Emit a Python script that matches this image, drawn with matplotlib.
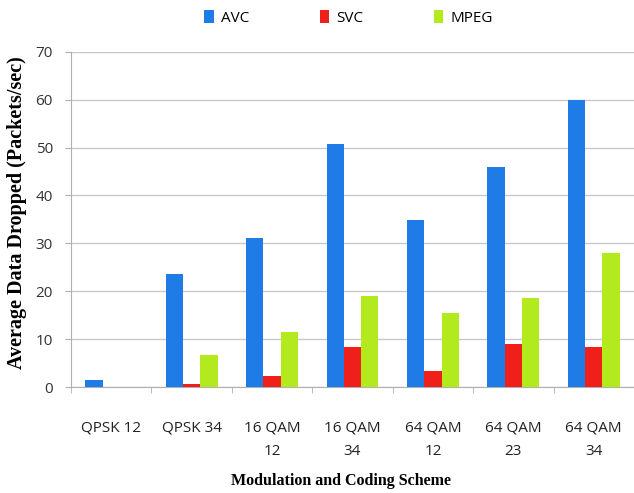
import numpy as np
from matplotlib import pyplot as plt

#%% Data

schemes = ["QPSK 12", "QPSK 34", "16 QAM\n12", "16 QAM\n34", "64 QAM\n12", "64 QAM\n23", "64 QAM\n34"]
avc = [1.4, 23.5, 31.1, 50.8, 34.9, 46.0, 60.0]
svc = [0.0, 0.7, 2.2, 8.4, 3.4, 9.0, 8.4]
mpeg = [0.0, 6.7, 11.4, 18.9, 15.4, 18.5, 28.0]

series = [("AVC", avc, "#1f7be6"), ("SVC", svc, "#ef1f1a"), ("MPEG", mpeg, "#b2ea1e")]

#%% Plot

fig = plt.figure(figsize=(6.34, 4.93), dpi=100)
ax = fig.add_axes([0.112, 0.215, 0.888, 0.68])

x = np.arange(len(schemes))
w = 0.215
for i, (name, vals, col) in enumerate(series):
    ax.bar(x + (i - 1) * w, vals, width=w, color=col, label=name, zorder=3)

ax.set_xlim(-0.5, len(schemes) - 0.5)
ax.set_ylim(0, 70)
ax.set_yticks(range(0, 71, 10))
ax.yaxis.grid(True, color="#c8c8c8", linewidth=1.0, zorder=0)

ax.set_xticks(x)
ax.set_xticklabels(schemes, fontsize=11, family="Open Sans", color="#222222", linespacing=1.75)
ax.set_xticks(np.arange(-0.5, len(schemes)), minor=True)
ax.tick_params(axis="x", which="major", length=0, pad=24)
ax.tick_params(axis="x", which="minor", length=4, color="#b0b0b0")
ax.tick_params(axis="y", length=4, color="#b0b0b0", labelsize=11, labelcolor="#333333", pad=9)
for lbl in ax.get_yticklabels():
    lbl.set_family("Open Sans")

for side in ["top", "right"]:
    ax.spines[side].set_visible(False)
for side in ["left", "bottom"]:
    ax.spines[side].set_color("#b0b0b0")

ax.set_xlabel("Modulation and Coding Scheme", family="Liberation Serif", fontweight="bold", fontsize=11.5)
ax.xaxis.set_label_coords(0.48, -0.258)
ax.set_ylabel("Average Data Dropped (Packets/sec)", family="Liberation Serif", fontweight="bold", fontsize=14.5)
ax.yaxis.set_label_coords(-0.078, 0.52)

fig.legend(loc="center", bbox_to_anchor=(0.55, 0.963), ncol=3, frameon=False,
           prop={"family": "Open Sans", "size": 11}, handlelength=0.6, handleheight=0.9,
           columnspacing=4.6, handletextpad=0.5)

fig.savefig("out.png", dpi=100)
